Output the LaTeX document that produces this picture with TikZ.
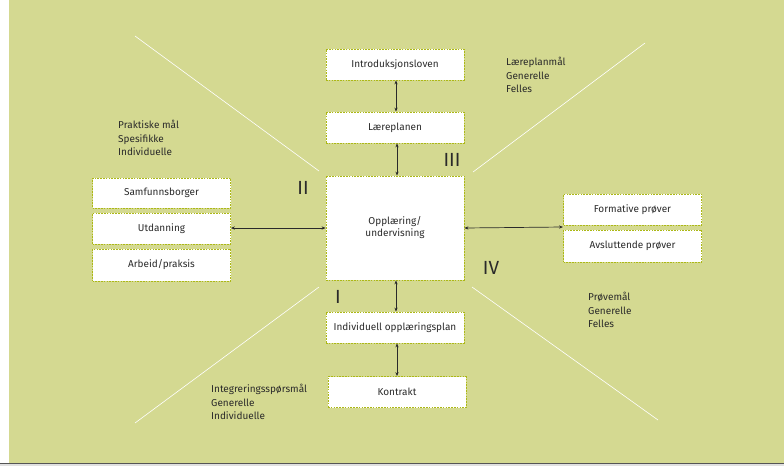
\documentclass[tikz,border=0pt]{standalone}
\usepackage{fontspec}
\setmainfont{Fira Sans}
\usetikzlibrary{arrows.meta,positioning}
\definecolor{bg}{RGB}{212,217,145}
\definecolor{rim}{RGB}{172,184,22}
\definecolor{ink}{HTML}{2A2A2A}

\tikzset{
   boks/.style={draw=rim, fill=white, line width=0.8pt, dash pattern=on 1.6pt off 1.2pt,
      minimum width=138pt, minimum height=31pt, inner sep=0pt, font=\fontsize{10}{12}\selectfont, text=ink},
   pil/.style={{Stealth[length=4pt,width=3.2pt]}-{Stealth[length=4pt,width=3.2pt]}, line width=0.7pt, ink},
   liste/.style={anchor=north west, align=left, inner sep=0pt, font=\fontsize{10}{13.5}\selectfont, text=ink},
   tall/.style={font=\fontsize{19}{19}\selectfont, text=ink, inner sep=0pt},
   skille/.style={white, line width=0.6pt}
}

\begin{document}
\begin{tikzpicture}[x=1pt, y=-1pt]
   % background
   \useasboundingbox (0,0) rectangle (784,466);
   \fill[white] (0,0) rectangle (784,466);
   \fill[bg] (9,0) rectangle (784,463);
   \fill[black!12] (0,464) rectangle (784,466);
   \draw[ink!80, line width=1pt] (0,463.5) -- (784,463.5);

   % quadrant lines
   \draw[skille] (135,36) -- (319,171);
   \draw[skille] (645,43) -- (473,172);
   \draw[skille] (135,423) -- (319,287);
   \draw[skille] (472,287) -- (658,420);

   % boxes
   \node[boks] (intro) at (395,64.5) {Introduksjonsloven};
   \node[boks] (laere) at (395,127.5) {Læreplanen};
   \node[boks, minimum height=104pt, align=center] (opl) at (395,228) {Opplæring/\\undervisning};
   \node[boks] (iop) at (395,327.5) {Individuell opplæringsplan};
   \node[boks] (kontr) at (397,392) {Kontrakt};

   \node[boks, minimum height=30pt] (samf) at (161.5,193) {Samfunnsborger};
   \node[boks] (utd) at (161.5,228.5) {Utdanning};
   \node[boks, minimum height=32pt] (arb) at (161.5,265) {Arbeid/praksis};

   \node[boks] (form) at (632.5,209.5) {Formative prøver};
   \node[boks, minimum height=32pt] (avsl) at (632.5,246) {Avsluttende prøver};
   \coordinate (prove) at (563,227);

   % connections
   \draw[pil] ([xshift=1pt]intro.south) -- ([xshift=1pt]laere.north);
   \draw[pil] ([xshift=2pt]laere.south) -- ([xshift=2pt]laere.south |- opl.north);
   \draw[pil] (utd.east |- opl.west) -- (opl.west);
   \draw[pil] (opl.east) -- (prove);
   \draw[pil] ([xshift=1pt]opl.south) -- ([xshift=1pt]iop.north);
   \draw[pil] (kontr.north |- iop.south) -- (kontr.north);

   % quadrant numbers
   \node[tall] (q1) at (338,297) {I};
   \node[tall] (q2) at (303,188) {II};
   \node[tall] (q3) at (452,160) {III};
   \node[tall] (q4) at (491,268) {IV};

   % goal lists
   \node[liste] (mal2) at (118,120) {Praktiske mål\\Spesifikke\\Individuelle};
   \node[liste] (mal3) at (506,57) {Læreplanmål\\Generelle\\Felles};
   \node[liste] (mal1) at (211,384) {Integreringsspørsmål\\Generelle\\Individuelle};
   \node[liste] (mal4) at (588,292) {Prøvemål\\Generelle\\Felles};
\end{tikzpicture}
\end{document}
